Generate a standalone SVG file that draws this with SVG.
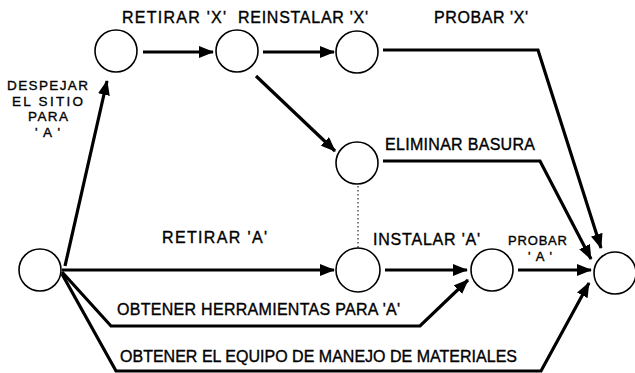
<svg xmlns="http://www.w3.org/2000/svg" width="635" height="373" viewBox="0 0 635 373">
<style>
.node{fill:#fff;stroke:#000;stroke-width:1.6}
.e{fill:none;stroke:#000;stroke-width:3.2;stroke-linejoin:miter}
.a{marker-end:url(#ah)}
.t{font-family:"Liberation Sans",Arial,sans-serif;font-size:16px;fill:#000;stroke:#000;stroke-width:0.35}
.s{font-size:13.5px}
.p{font-size:13px}
</style>
<defs>
<marker id="ah" markerUnits="userSpaceOnUse" markerWidth="15" markerHeight="12" viewBox="0 0 15 12" refX="14" refY="6" orient="auto">
<path d="M0,0 L15,6 L0,12 Z" fill="#000"/>
</marker>
</defs>
<rect width="635" height="373" fill="#fff"/>
<g id="connectors">
<line class="e a" x1="65" y1="266" x2="107" y2="81"/>
<line class="e a" x1="143" y1="52" x2="213" y2="52"/>
<line class="e a" x1="263" y1="52" x2="334" y2="52"/>
<line class="e a" x1="256" y1="76" x2="335" y2="151"/>
<polyline class="e a" points="383,50 538,50 601,248"/>
<polyline class="e a" points="383,161 540,161 591,259"/>
<line x1="358" y1="186" x2="358" y2="248" stroke="#000" stroke-width="1" stroke-dasharray="1.5,2.5"/>
<line class="e a" x1="62" y1="270" x2="334" y2="270"/>
<line class="e a" x1="385" y1="270" x2="467" y2="270"/>
<line class="e a" x1="518" y1="270" x2="591" y2="270"/>
<polyline class="e a" points="62,272 111,326 420,326 468,280"/>
<polyline class="e a" points="62,274 116,371 541,371 589,283"/>
</g>
<g id="n1"><circle class="node" cx="40" cy="270" r="21"/></g>
<g id="n2"><circle class="node" cx="116" cy="51" r="21"/></g>
<g id="n3"><circle class="node" cx="237" cy="51" r="21"/></g>
<g id="n4"><circle class="node" cx="357" cy="52" r="21"/></g>
<g id="n5"><circle class="node" cx="357" cy="163" r="21"/></g>
<g id="n6"><circle class="node" cx="358" cy="270" r="22"/></g>
<g id="n7"><circle class="node" cx="492" cy="270" r="21"/></g>
<g id="n8"><circle class="node" cx="615" cy="273" r="21"/></g>
<g id="labels">
<text class="t" x="122" y="23" textLength="104" lengthAdjust="spacing">RETIRAR 'X'</text>
<text class="t" x="238" y="23" textLength="130" lengthAdjust="spacing">REINSTALAR 'X'</text>
<text class="t" x="434" y="23" textLength="94" lengthAdjust="spacing">PROBAR 'X'</text>
<text class="t s" x="7" y="90" textLength="81" lengthAdjust="spacing">DESPEJAR</text>
<text class="t s" x="12" y="105.5" textLength="71" lengthAdjust="spacing">EL SITIO</text>
<text class="t s" x="28" y="121" textLength="40" lengthAdjust="spacing">PARA</text>
<text class="t s" x="35" y="136.5" textLength="25" lengthAdjust="spacing">'A'</text>
<text class="t" x="385" y="150" textLength="150" lengthAdjust="spacing">ELIMINAR BASURA</text>
<text class="t" x="162" y="243" textLength="105" lengthAdjust="spacing">RETIRAR 'A'</text>
<text class="t" x="373" y="245" textLength="107" lengthAdjust="spacing">INSTALAR 'A'</text>
<text class="t p" x="508" y="245" textLength="59" lengthAdjust="spacing">PROBAR</text>
<text class="t p" x="528" y="261" textLength="24" lengthAdjust="spacing">'A'</text>
<text class="t" x="117" y="315" textLength="283" lengthAdjust="spacing">OBTENER HERRAMIENTAS PARA 'A'</text>
<text class="t" x="120" y="362" textLength="397" lengthAdjust="spacing">OBTENER EL EQUIPO DE MANEJO DE MATERIALES</text>
</g>
</svg>
